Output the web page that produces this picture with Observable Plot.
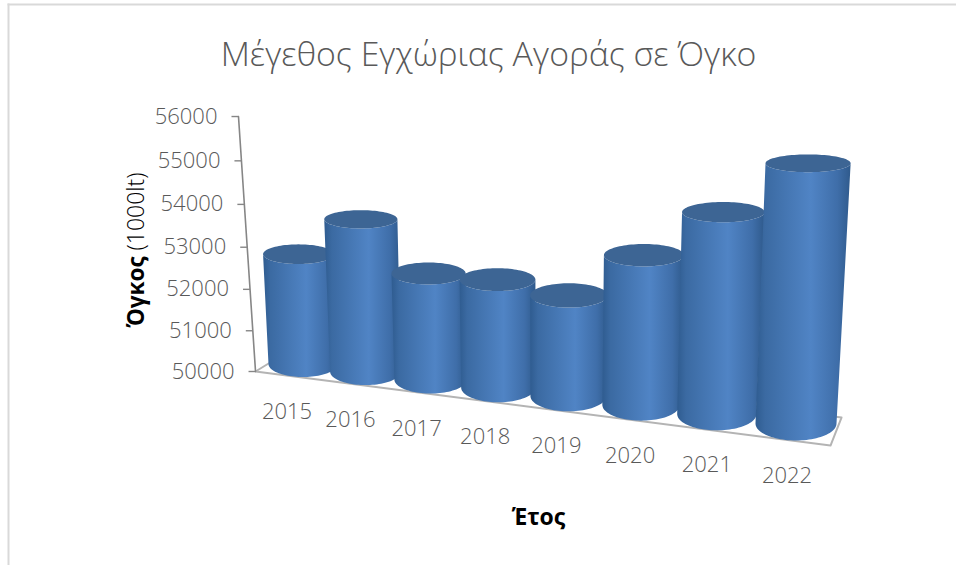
<!DOCTYPE html>
<html lang="el">
<head>
<meta charset="utf-8">
<style>
  html, body { margin: 0; padding: 0; background: #fff; }
  svg { display: block; }
</style>
<script src="https://cdn.jsdelivr.net/npm/d3@7"></script>
<script src="https://cdn.jsdelivr.net/npm/@observablehq/plot@0.6"></script>
</head>
<body>
<div id="chart"></div>
<script>
const chartTitle = "Μέγεθος Εγχώριας Αγοράς σε Όγκο";
const years = [2015, 2016, 2017, 2018, 2019, 2020, 2021, 2022];
const volumes = [52600, 53500, 52400, 52390, 52180, 53140, 54100, 55110];
const axisTicks = [50000, 51000, 52000, 53000, 54000, 55000, 56000];

const FONT = "'Open Sans', sans-serif";
const baseValue = 50000, topValue = 56000;

// Quadrilateral -> homography for a perspective wall, in scale units.
function homography([[x0, y0], [x1, y1], [x2, y2], [x3, y3]]) {
  const dx1 = x1 - x2, dx2 = x3 - x2, sx = x0 - x1 + x2 - x3;
  const dy1 = y1 - y2, dy2 = y3 - y2, sy = y0 - y1 + y2 - y3;
  const det = dx1 * dy2 - dx2 * dy1;
  const g = (sx * dy2 - dx2 * sy) / det, h = (dx1 * sy - sx * dy1) / det;
  const a = x1 - x0 + g * x1, b = x3 - x0 + h * x3;
  const d = y1 - y0 + g * y1, e = y3 - y0 + h * y3;
  return (s, t) => {
    const w = g * s + h * t + 1;
    return [(a * s + b * t + x0) / w, (d * s + e * t + y0) / w];
  };
}

// Plane through the cylinder axes and the plane of the front floor edge.
const axisPlane = homography([[0, 50000], [7, 48627], [7.203, 55735], [-0.153, 56000]]);
const frontPlane = homography([[-0.674, 49827], [7.49, 48119], [7.72, 55504], [-0.916, 55711]]);

const PX_PER_SLOT = 70.43, PX_PER_UNIT = 43.33 / 1000;
const level = (v) => (v - baseValue) / (topValue - baseValue);
// Slots are eased a little so the spacing stays even through the middle of the row.
const slot = (u) => (u + 0.065 * Math.sin((Math.PI * u) / 7)) / 7;
const center = (u, v) => axisPlane(slot(u), level(v));
const front = (s, v) => frontPlane(s, level(v));
const radiusX = (u, v) => ((34.5 + 0.857 * u) * (1 + 0.06 * level(v))) / PX_PER_SLOT;
const radiusY = (u, v) => ((13 + 0.57 * u) * (1 - 0.56 * level(v))) / PX_PER_UNIT;

// Points round a cylinder's rim; angles grow clockwise on screen.
const arc = (u, v, from, to, n = 48) =>
  d3.range(n + 1).map((k) => {
    const a = from + ((to - from) * k) / n;
    const [cx, cy] = center(u, v);
    return { x: cx + radiusX(u, v) * Math.cos(a), y: cy - radiusY(u, v) * Math.sin(a) };
  });

const cylinderMarks = years.flatMap((year, u) => {
  const value = volumes[u];
  const side = [...arc(u, baseValue, Math.PI, 0), ...arc(u, value, 0, Math.PI)];
  const cap = arc(u, value, 0, 2 * Math.PI, 96);
  return [
    Plot.line(side, { x: "x", y: "y", fill: "url(#cylinderSide)", stroke: "none" }),
    Plot.line(cap, { x: "x", y: "y", fill: "#3d6594", stroke: "none" })
  ];
});

const gradient = () => {
  const defs = d3.create("svg:defs");
  const g = defs.append("linearGradient").attr("id", "cylinderSide");
  [[0, "#2f5c90"], [0.1, "#3b6aa2"], [0.58, "#5084c5"], [0.86, "#3f6ea9"], [1, "#2f5a8c"]].forEach(([o, c]) =>
    g.append("stop").attr("offset", o).attr("stop-color", c));
  return defs.node();
};

// Floor outline: front edge plus the two receding sides.
const [flx, fly] = front(0, baseValue);
const [frx, fry] = front(1, baseValue);
const floorOutline = [
  [flx + 0.6, fly + 600],
  [flx, fly],
  [frx, fry],
  [frx + 0.156, fry + 646],
  [flx + 0.6, fly + 600]
].map(([x, y]) => ({ x, y }));

const axisLine = [baseValue, topValue].map((v) => front(0, v)).map(([x, y]) => ({ x, y }));
const tickRows = axisTicks.map((v) => {
  const [x, y] = front(0, v);
  return { v, x, y };
});
const yearRows = years.map((year, u) => {
  const [cx, cy] = center(u, baseValue);
  return {
    year,
    x: cx - (16 - u) / PX_PER_SLOT,
    y: cy - (radiusY(u, baseValue) + 35 / PX_PER_UNIT)
  };
});

const textStyle = { fontFamily: FONT, fill: "#595959" };

const plot = Plot.plot({
  width: 956,
  height: 565,
  margin: 0,
  style: { background: "#fff", overflow: "hidden" },
  x: { domain: [0, 7], range: [302.5, 795.5], axis: null },
  y: { domain: [baseValue, topValue], range: [363.5, 103.5], axis: null },
  marks: [
    gradient,
    Plot.frame({ anchor: "left", stroke: "#d9d9d9", strokeWidth: 2, insetLeft: 8, insetTop: 4 }),
    Plot.frame({ anchor: "top", stroke: "#d9d9d9", strokeWidth: 2, insetTop: 4, insetLeft: 8 }),
    Plot.text([chartTitle], {
      text: (d) => d, frameAnchor: "top-left", dx: 488, dy: 55, textAnchor: "middle", lineAnchor: "middle",
      fontSize: 33.8, fontWeight: 300, ...textStyle
    }),
    Plot.line(floorOutline, { x: "x", y: "y", stroke: "#b4b4b4", strokeWidth: 2 }),
    Plot.line(axisLine, { x: "x", y: "y", stroke: "#868686", strokeWidth: 1.6 }),
    Plot.link(tickRows, {
      x1: "x", y1: "y", x2: (d) => d.x - 7 / PX_PER_SLOT, y2: "y", stroke: "#868686", strokeWidth: 1.4
    }),
    Plot.text(tickRows, {
      x: (d) => d.x - 21 / PX_PER_SLOT, y: "y", text: (d) => String(d.v), textAnchor: "end",
      fontSize: 22, fontWeight: 300, ...textStyle
    }),
    ...cylinderMarks,
    Plot.text(yearRows, {
      x: "x", y: "y", text: (d) => String(d.year), textAnchor: "middle",
      fontSize: 22, fontWeight: 300, ...textStyle
    }),
    Plot.text(["Όγκος"], {
      text: (d) => d, frameAnchor: "top-left", dx: 136, dy: 327, rotate: -90, textAnchor: "start",
      lineAnchor: "middle", fontSize: 22.5, fontWeight: 700, fontFamily: FONT, fill: "#000"
    }),
    Plot.text(["(1000lt)"], {
      text: (d) => d, frameAnchor: "top-left", dx: 136, dy: 250, rotate: -90, textAnchor: "start",
      lineAnchor: "middle", fontSize: 23, fontWeight: 300, fontFamily: FONT, fill: "#000"
    }),
    Plot.text(["Έτος"], {
      text: (d) => d, frameAnchor: "top-left", dx: 538, dy: 517, textAnchor: "middle", lineAnchor: "middle",
      fontSize: 23, fontWeight: 700, fontFamily: FONT, fill: "#000"
    })
  ]
});
document.getElementById("chart").append(plot);
</script>
</body>
</html>
